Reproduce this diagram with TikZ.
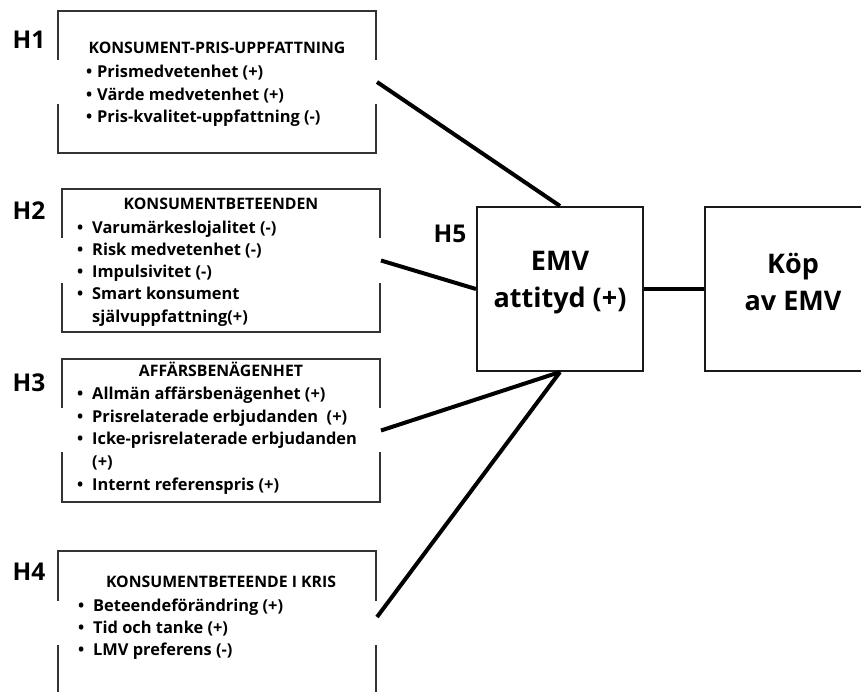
\documentclass[tikz,border=0pt]{standalone}
\usepackage{fontspec}
\setmainfont{Open Sans}
\newcommand\bl[1]{\makebox[#1][l]{\textbullet}}
\begin{document}
\begin{tikzpicture}[x=1pt,y=-1pt,
  box/.style={draw=black!80, line width=2pt, inner sep=0pt},
  bigbox/.style={draw=black!90, line width=2pt, inner sep=0pt, minimum width=166pt, minimum height=164pt},
  gap/.style={fill=white, draw=none},
  ttl/.style={inner sep=0pt, anchor=mid, yshift=-1.5pt, font=\fontsize{15.8}{18}\selectfont\bfseries},
  itm/.style={inner sep=0pt, anchor=mid west, yshift=-2.5pt, font=\fontsize{16.4}{19}\selectfont\bfseries},
  hyp/.style={inner sep=0pt, font=\fontsize{24.5}{28}\selectfont\bfseries},
  big/.style={inner sep=0pt, align=center, font=\fontsize{27}{37}\selectfont\bfseries},
  link/.style={line width=4pt, black}]
\useasboundingbox (0,0) rectangle (861,691);
% left boxes
\node[box, minimum width=318pt, minimum height=142pt] (b1) at (217,82) {};
\node[box, minimum width=318pt, minimum height=143pt] (b2) at (221,260.5) {};
\node[box, minimum width=318pt, minimum height=143pt] (b3) at (221,430.5) {};
\node[box, minimum width=318pt, minimum height=150pt] (b4) at (217,626) {};
% gaps in the side borders
\fill[gap] (54,60) rectangle (380,104);
\fill[gap] (58,238) rectangle (384,283);
\fill[gap] (58,408) rectangle (384,452);
\fill[gap] (54,601) rectangle (380,645);
% H1
\node[ttl] (t1) at (217,49) {KONSUMENT-PRIS-UPPFATTNING};
\node[itm] (i11) at (86,72) {\bl{11pt}Prismedvetenhet (+)};
\node[itm] (i12) at (86,95) {\bl{11pt}Värde medvetenhet (+)};
\node[itm] (i13) at (86,117) {\bl{11pt}Pris-kvalitet-uppfattning (-)};
% H2
\node[ttl] (t2) at (221,205) {KONSUMENTBETEENDEN};
\node[itm] (i21) at (77,228) {\bl{15pt}Varumärkeslojalitet (-)};
\node[itm] (i22) at (77,250) {\bl{15pt}Risk medvetenhet (-)};
\node[itm] (i23) at (77,272) {\bl{15pt}Impulsivitet (-)};
\node[itm] (i24) at (77,294) {\bl{15pt}Smart konsument};
\node[itm] (i25) at (92,317) {självuppfattning(+)};
% H3
\node[ttl] (t3) at (221,372) {AFFÄRSBENÄGENHET};
\node[itm] (i31) at (77,394) {\bl{15pt}Allmän affärsbenägenhet (+)};
\node[itm] (i32) at (77,417) {\bl{15pt}Prisrelaterade erbjudanden\ \ (+)};
\node[itm] (i33) at (77,439) {\bl{15pt}Icke-prisrelaterade erbjudanden};
\node[itm] (i34) at (92,462) {(+)};
\node[itm] (i35) at (77,485) {\bl{15pt}Internt referenspris (+)};
% H4
\node[ttl] (t4) at (221,583) {KONSUMENTBETEENDE I KRIS};
\node[itm] (i41) at (78,606) {\bl{15pt}Beteendeförändring (+)};
\node[itm] (i42) at (78,628) {\bl{15pt}Tid och tanke (+)};
\node[itm] (i43) at (78,650) {\bl{15pt}LMV preferens (-)};
% hypothesis labels
\node[hyp] (h1) at (29,40) {H1};
\node[hyp] (h2) at (29,211) {H2};
\node[hyp] (h3) at (29,383) {H3};
\node[hyp] (h4) at (29,572) {H4};
\node[hyp] (h5) at (450,234) {H5};
% right boxes
\node[bigbox] (emv) at (560,289) {};
\node[bigbox, minimum width=176pt] (kop) at (793,289) {};
\node[big] (emvt) at (560,283) {EMV\\attityd (+)};
\node[big] (kopt) at (793,282) {Köp\\av EMV};
% connectors
\coordinate (o4) at ([yshift=9pt]b4.east);
\draw[link] (b1.east) -- (emv.north);
\draw[link] (b2.east) -- (emv.west);
\draw[link] (b3.east) -- (emv.south);
\draw[link] (o4) -- (emv.south);
\draw[link] (emv.east) -- (kop.west);
\end{tikzpicture}
\end{document}
